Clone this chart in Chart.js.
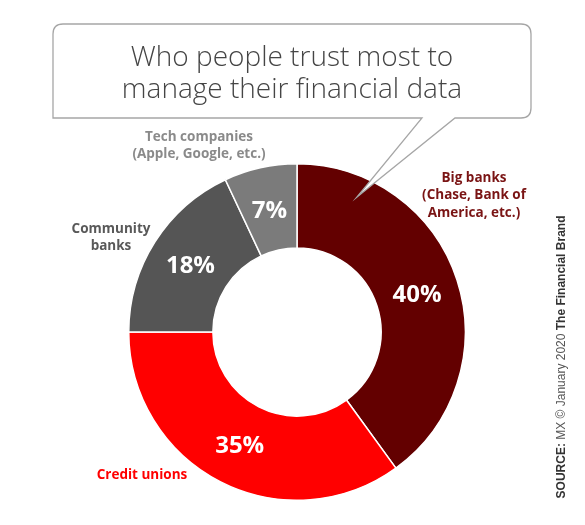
<!DOCTYPE html>
<html>
<head>
<meta charset="utf-8">
<script src="https://cdn.jsdelivr.net/npm/chart.js@4/dist/chart.umd.min.js"></script>
<style>
html,body{margin:0;padding:0;background:#fff;}
#wrap{position:relative;width:585px;height:525px;}
</style>
</head>
<body>
<div id="wrap"><canvas id="c" width="585" height="525"></canvas></div>
<script>
const categories = ["Big banks", "Credit unions", "Community banks", "Tech companies"];
const values = [40, 35, 18, 7];
const valueLabels = ["40%", "35%", "18%", "7%"];
const sliceColors = ["#630000", "#ff0000", "#555555", "#7b7b7b"];
const titleLines = ["Who people trust most to", "manage their financial data"];

const labelSpecs = [
  {lines: ["Big banks", "(Chase, Bank of", "America, etc.)"], x: 474, y: 178, color: "#7a1414"},
  {lines: ["Credit unions"], x: 142, y: 475, color: "#ff0000"},
  {lines: ["Community", "banks"], x: 111, y: 229, color: "#595959"},
  {lines: ["Tech companies", "(Apple, Google, etc.)"], x: 199, y: 137, color: "#8a8a8a"}
];

const overlay = {
  id: 'overlay',
  afterDatasetsDraw(chart) {
    const ctx = chart.ctx;
    const meta = chart.getDatasetMeta(0);
    // value labels
    ctx.save();
    ctx.fillStyle = "#ffffff";
    ctx.font = "bold 24px 'Open Sans', sans-serif";
    ctx.textAlign = "center";
    ctx.textBaseline = "middle";
    meta.data.forEach((arc, i) => {
      const p = arc.tooltipPosition();
      ctx.fillText(valueLabels[i], p.x, p.y + 2);
    });
    ctx.restore();

    // category labels
    ctx.save();
    ctx.font = "bold 13.5px 'Open Sans', sans-serif";
    ctx.textAlign = "center";
    ctx.textBaseline = "middle";
    labelSpecs.forEach(s => {
      ctx.fillStyle = s.color;
      s.lines.forEach((ln, k) => ctx.fillText(ln, s.x, s.y + k * 17.5));
    });
    ctx.restore();

    // speech bubble
    ctx.save();
    const L = 53, T = 24, R = 531, B = 118, r = 10;
    ctx.beginPath();
    ctx.moveTo(L + r, T);
    ctx.lineTo(R - r, T);
    ctx.quadraticCurveTo(R, T, R, T + r);
    ctx.lineTo(R, B - r);
    ctx.quadraticCurveTo(R, B, R - r, B);
    ctx.lineTo(455, B);
    ctx.lineTo(357, 197);
    ctx.lineTo(422, B);
    ctx.lineTo(L, B);
    ctx.lineTo(L, T + r);
    ctx.quadraticCurveTo(L, T, L + r, T);
    ctx.closePath();
    ctx.fillStyle = "#ffffff";
    ctx.fill();
    ctx.strokeStyle = "#a6a6a6";
    ctx.lineWidth = 1.3;
    ctx.stroke();

    ctx.fillStyle = "#454545";
    ctx.font = "300 28px 'Open Sans', sans-serif";
    ctx.textAlign = "center";
    ctx.textBaseline = "middle";
    ctx.fillText(titleLines[0], 292, 58);
    ctx.fillText(titleLines[1], 292, 90);
    ctx.restore();

    // source (rotated)
    ctx.save();
    ctx.translate(562, 357);
    ctx.rotate(-Math.PI / 2);
    ctx.textBaseline = "middle";
    const parts = [
      ["SOURCE: ", "bold 12px 'Liberation Sans', Arial, sans-serif", "#333"],
      ["MX \u00A9 January 2020 ", "12px 'Liberation Sans', Arial, sans-serif", "#555"],
      ["The Financial Brand", "bold 12px 'Liberation Sans', Arial, sans-serif", "#333"]
    ];
    let total = 0;
    parts.forEach(p => { ctx.font = p[1]; total += ctx.measureText(p[0]).width; });
    let x = -total / 2;
    ctx.textAlign = "left";
    parts.forEach(p => {
      ctx.font = p[1];
      ctx.fillStyle = p[2];
      ctx.fillText(p[0], x, 0);
      x += ctx.measureText(p[0]).width;
    });
    ctx.restore();
  }
};

new Chart(document.getElementById('c'), {
  type: 'doughnut',
  data: {
    labels: categories,
    datasets: [{
      data: values,
      backgroundColor: sliceColors,
      borderColor: "#ffffff",
      borderWidth: 1.5
    }]
  },
  options: {
    responsive: false,
    animation: false,
    cutout: '50%',
    layout: { padding: { left: 128, right: 119, top: 163, bottom: 24 } },
    plugins: { legend: { display: false }, tooltip: { enabled: false } }
  },
  plugins: [overlay]
});
</script>
</body>
</html>
